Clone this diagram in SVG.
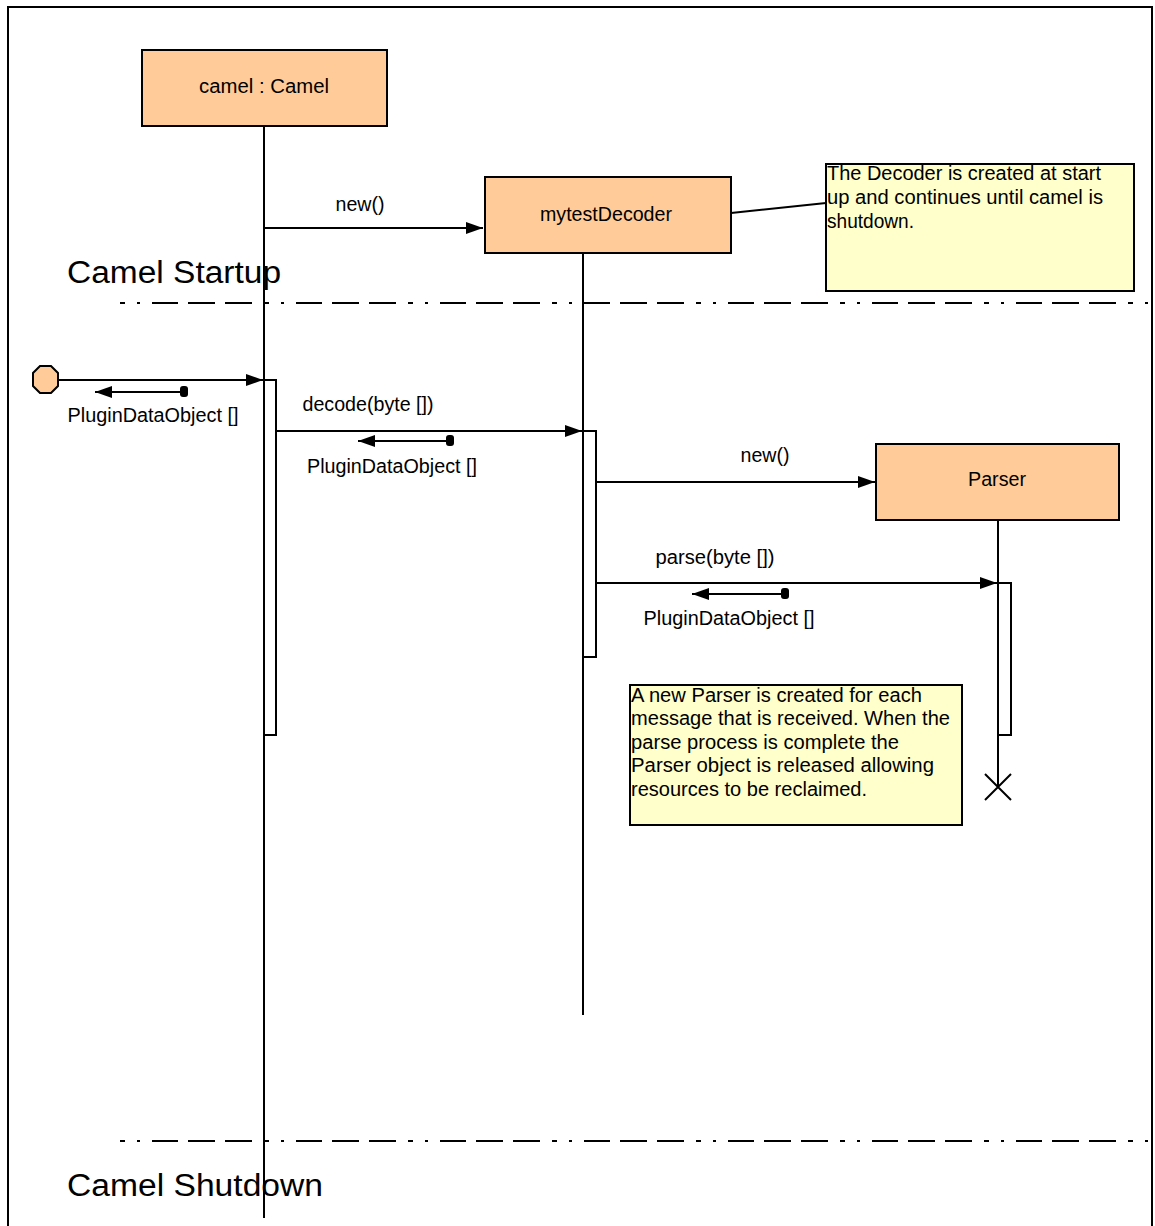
<svg xmlns="http://www.w3.org/2000/svg" width="1155" height="1226" viewBox="0 0 1155 1226">
  <style>
    .frame { fill: none; stroke: #000; stroke-width: 2; }
    .obj { fill: #FFCC99; stroke: #000; stroke-width: 2; }
    .note { fill: #FFFFCC; stroke: #000; stroke-width: 2; }
    .life { fill: none; stroke: #000; stroke-width: 2; }
    .act { fill: #fff; stroke: #000; stroke-width: 2; }
    .msg { fill: none; stroke: #000; stroke-width: 2; }
    .sep { fill: none; stroke: #000; stroke-width: 2; stroke-dasharray: 5 12 3 12 26 10 27 10 27 12; }
    .t { font-family: "Liberation Sans", Arial, sans-serif; font-size: 19.5px; fill: #000; }
    .c { text-anchor: middle; }
    .big { font-family: "Liberation Sans", Arial, sans-serif; font-size: 31px; fill: #000; }
  </style>
  <defs>
    <marker id="arrow" markerUnits="userSpaceOnUse" markerWidth="18" markerHeight="13" refX="17" refY="6.5" orient="auto">
      <path d="M0,0.5 L17,6.5 L0,12.5 Z" fill="#000"/>
    </marker>
  </defs>

  <!-- page frame -->
  <rect class="frame" x="8" y="7" width="1144" height="1240"/>

  <!-- phase separators and labels -->
  <line class="sep" x1="120" y1="303" x2="1150" y2="303"/>
  <line class="sep" x1="120" y1="1141" x2="1150" y2="1141"/>
  <text class="big" x="67" y="283" textLength="214" lengthAdjust="spacingAndGlyphs">Camel Startup</text>
  <text class="big" x="67" y="1196" textLength="256" lengthAdjust="spacingAndGlyphs">Camel Shutdown</text>

  <!-- camel lifeline -->
  <g id="camel">
    <rect class="act" x="264" y="380" width="12" height="355"/>
    <line class="life" x1="264" y1="126" x2="264" y2="1218"/>
    <rect class="obj" x="142" y="50" width="245" height="76"/>
    <text class="t c" x="264" y="93" textLength="130" lengthAdjust="spacingAndGlyphs">camel : Camel</text>
  </g>

  <!-- decoder lifeline -->
  <g id="mytestDecoder">
    <line class="life" x1="583" y1="253" x2="583" y2="1015"/>
    <rect class="act" x="583" y="431" width="13" height="226"/>
    <rect class="obj" x="485" y="177" width="246" height="76"/>
    <text class="t c" x="606" y="221" textLength="132" lengthAdjust="spacingAndGlyphs">mytestDecoder</text>
  </g>

  <!-- parser lifeline -->
  <g id="parser">
    <line class="life" x1="998" y1="520" x2="998" y2="787"/>
    <rect class="act" x="998" y="583" width="13" height="152"/>
    <path class="life" d="M985,774 L1011,800 M1011,774 L985,800"/>
    <rect class="obj" x="876" y="444" width="243" height="76"/>
    <text class="t c" x="997" y="486" textLength="58" lengthAdjust="spacingAndGlyphs">Parser</text>
  </g>

  <!-- notes -->
  <g id="note-decoder">
    <rect class="note" x="826" y="164" width="308" height="127"/>
    <text class="t" x="827" y="180" textLength="274" lengthAdjust="spacingAndGlyphs">The Decoder is created at start</text>
    <text class="t" x="827" y="204" textLength="276" lengthAdjust="spacingAndGlyphs">up and continues until camel is</text>
    <text class="t" x="827" y="228" textLength="87" lengthAdjust="spacingAndGlyphs">shutdown.</text>
  </g>
  <g id="note-parser">
    <rect class="note" x="630" y="685" width="332" height="140"/>
    <text class="t" x="631" y="702" textLength="291" lengthAdjust="spacingAndGlyphs">A new Parser is created for each</text>
    <text class="t" x="631" y="725" textLength="319" lengthAdjust="spacingAndGlyphs">message that is received. When the</text>
    <text class="t" x="631" y="749" textLength="268" lengthAdjust="spacingAndGlyphs">parse process is complete the</text>
    <text class="t" x="631" y="772" textLength="303" lengthAdjust="spacingAndGlyphs">Parser object is released allowing</text>
    <text class="t" x="631" y="796" textLength="236" lengthAdjust="spacingAndGlyphs">resources to be reclaimed.</text>
  </g>

  <!-- external trigger -->
  <g id="actor">
    <polygon class="obj" points="40,366 51,366 58,373 58,386 51,393 40,393 33,386 33,373"/>
  </g>

  <!-- messages -->
  <g id="connectors">
    <line class="msg" x1="731" y1="213" x2="826" y2="203"/>

    <line class="msg" x1="264" y1="228" x2="483" y2="228" marker-end="url(#arrow)"/>
    <text class="t c" x="360" y="211" textLength="49" lengthAdjust="spacingAndGlyphs">new()</text>

    <line class="msg" x1="58" y1="380" x2="263" y2="380" marker-end="url(#arrow)"/>
    <line class="msg" x1="184" y1="392" x2="95" y2="392" marker-end="url(#arrow)"/>
    <rect x="180" y="386" width="8" height="11" rx="3" fill="#000"/>
    <text class="t c" x="153" y="422" textLength="171" lengthAdjust="spacingAndGlyphs">PluginDataObject []</text>

    <line class="msg" x1="276" y1="431" x2="582" y2="431" marker-end="url(#arrow)"/>
    <text class="t c" x="368" y="411" textLength="131" lengthAdjust="spacingAndGlyphs">decode(byte [])</text>
    <line class="msg" x1="450" y1="441" x2="358" y2="441" marker-end="url(#arrow)"/>
    <rect x="446" y="435" width="8" height="11" rx="3" fill="#000"/>
    <text class="t c" x="392" y="473" textLength="170" lengthAdjust="spacingAndGlyphs">PluginDataObject []</text>

    <line class="msg" x1="596" y1="482" x2="875" y2="482" marker-end="url(#arrow)"/>
    <text class="t c" x="765" y="462" textLength="49" lengthAdjust="spacingAndGlyphs">new()</text>

    <line class="msg" x1="596" y1="583" x2="997" y2="583" marker-end="url(#arrow)"/>
    <text class="t c" x="715" y="564" textLength="119" lengthAdjust="spacingAndGlyphs">parse(byte [])</text>
    <line class="msg" x1="785" y1="594" x2="692" y2="594" marker-end="url(#arrow)"/>
    <rect x="781" y="588" width="8" height="11" rx="3" fill="#000"/>
    <text class="t c" x="729" y="625" textLength="171" lengthAdjust="spacingAndGlyphs">PluginDataObject []</text>
  </g>
</svg>
